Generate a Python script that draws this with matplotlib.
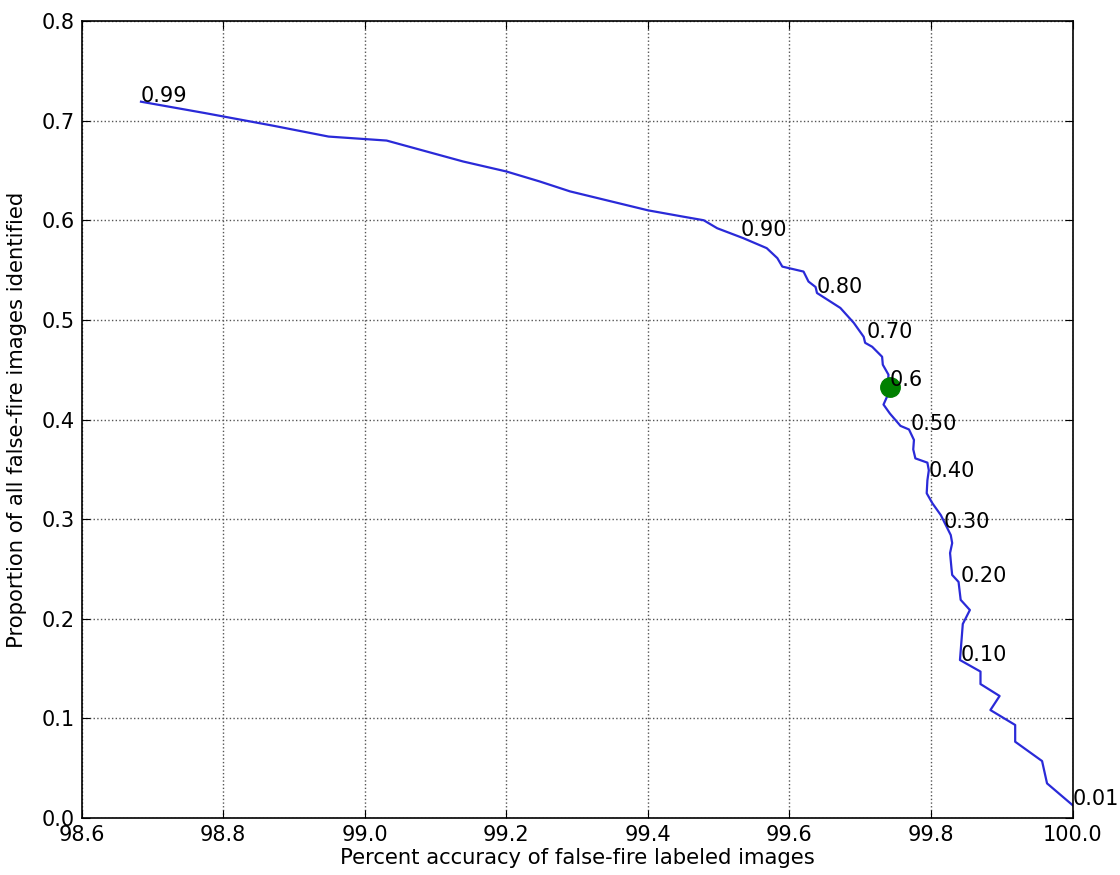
import matplotlib
matplotlib.use("Agg")
import matplotlib.pyplot as plt

# Curve data: (percent accuracy, proportion identified)
acc = [98.684, 98.775, 98.870, 98.949, 99.031, 99.139, 99.200, 99.247, 99.290, 99.400, 99.447,
       99.479, 99.498, 99.535, 99.568, 99.583, 99.590, 99.599, 99.620, 99.627, 99.637, 99.639,
       99.672, 99.691, 99.705, 99.707, 99.717, 99.731, 99.732, 99.740, 99.738, 99.733, 99.742,
       99.757, 99.769, 99.776, 99.775, 99.778, 99.795, 99.797, 99.795, 99.794, 99.802, 99.814,
       99.821, 99.828, 99.830, 99.827, 99.829, 99.830, 99.839, 99.842, 99.855, 99.845, 99.841,
       99.870, 99.870, 99.897, 99.884, 99.919, 99.919, 99.957, 99.964, 100.0]
prop = [0.719, 0.7075, 0.695, 0.684, 0.680, 0.659, 0.649, 0.639, 0.629, 0.610, 0.604,
        0.600, 0.592, 0.582, 0.572, 0.562, 0.5535, 0.552, 0.5485, 0.5385, 0.533, 0.527,
        0.512, 0.497, 0.483, 0.477, 0.473, 0.463, 0.455, 0.445, 0.423, 0.415, 0.406,
        0.3936, 0.390, 0.3795, 0.370, 0.361, 0.3567, 0.349, 0.339, 0.326, 0.316, 0.304,
        0.294, 0.284, 0.276, 0.266, 0.2507, 0.244, 0.237, 0.219, 0.2088, 0.1948, 0.1586,
        0.147, 0.1345, 0.1225, 0.1084, 0.0934, 0.0766, 0.0572, 0.0348, 0.013]

# Threshold labels and their positions on the curve
thr_labels = ["0.99", "0.90", "0.80", "0.70", "0.6", "0.50", "0.40", "0.30", "0.20", "0.10", "0.01"]
thr_acc = [98.684, 99.531, 99.638, 99.709, 99.742, 99.771, 99.797, 99.818, 99.842, 99.842, 100.0]
thr_prop = [0.719, 0.584, 0.527, 0.482, 0.434, 0.3896, 0.3427, 0.291, 0.237, 0.1576, 0.013]

# Highlighted operating point
pt_acc = [99.742]
pt_prop = [0.433]

x_ticks = [98.6, 98.8, 99.0, 99.2, 99.4, 99.6, 99.8, 100.0]
y_ticks = [0.0, 0.1, 0.2, 0.3, 0.4, 0.5, 0.6, 0.7, 0.8]

fig = plt.figure(figsize=(11.2, 8.75), dpi=100)
ax = fig.add_axes([0.0728, 0.0651, 0.8848, 0.9109])

ax.plot(acc, prop, color="#2a2ad8", lw=1.6)
ax.plot(pt_acc, pt_prop, "o", color="green", markersize=14, markeredgecolor="green")
for t, xa, yp in zip(thr_labels, thr_acc, thr_prop):
    ax.text(xa, yp, t, fontsize=15, ha="left", va="baseline", color="black")

ax.set_xlim(98.6, 100.0)
ax.set_ylim(0.0, 0.8)
ax.set_xticks(x_ticks)
ax.set_yticks(y_ticks)
ax.set_xticklabels([f"{v:.1f}" for v in x_ticks])
ax.set_yticklabels([f"{v:.1f}" for v in y_ticks])
ax.tick_params(direction="in", top=True, right=True, labelsize=15, length=6, pad=5)
ax.grid(True, linestyle=":", color="#555555", lw=1.0)
for s in ax.spines.values():
    s.set_linewidth(1.2)

ax.set_xlabel("Percent accuracy of false-fire labeled images", fontsize=15.2, labelpad=2)
ax.set_ylabel("Proportion of all false-fire images identified", fontsize=15.2, labelpad=10)

fig.savefig("out.png", dpi=100)
